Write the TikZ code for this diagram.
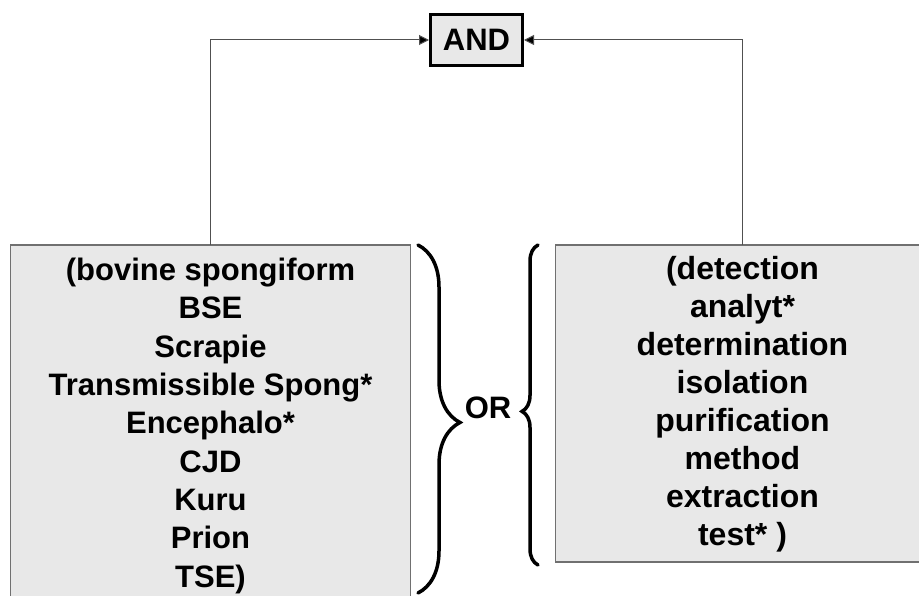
\documentclass[tikz,border=0pt]{standalone}
\usepackage{fontspec}
\setmainfont{Liberation Sans}
\usetikzlibrary{arrows.meta,decorations.pathreplacing}
\definecolor{boxfill}{HTML}{E8E8E8}
\definecolor{boxline}{HTML}{707070}
\definecolor{connline}{HTML}{505050}
\begin{document}
\begin{tikzpicture}[x=1pt,y=-1pt,
  andbox/.style={draw=black, line width=3pt, fill=boxfill, minimum width=92pt, minimum height=51pt, inner sep=0pt, font=\fontsize{31}{36}\selectfont\bfseries},
  termbox/.style={draw=boxline, line width=1.3pt, fill=boxfill, inner sep=0pt, outer sep=0pt, anchor=north west},
  termtext/.style={align=center, inner sep=0pt, anchor=north},
  conn/.style={draw=connline, line width=1pt, -{Triangle[length=10pt,width=10pt,fill=black]}},
  bracestyle/.style={decorate, line width=3.5pt, line cap=round}]
\clip (0,0) rectangle (919,596);
\fill[white] (0,0) rectangle (919,596);
\node[andbox] (AND) at (476.5,40) {AND};
\node[termbox, minimum width=400pt, minimum height=380pt] (L) at (10.5,245) {};
\node[termbox, minimum width=374pt, minimum height=317pt] (R) at (555.5,245) {};
\node[termtext, font=\fontsize{31}{38.3}\selectfont\bfseries] (Lt) at (210.5,258) {(bovine spongiform\\BSE\\Scrapie\\Transmissible Spong*\\Encephalo*\\CJD\\Kuru\\Prion\\TSE)};
\node[termtext, font=\fontsize{32}{38}\selectfont\bfseries] (Rt) at (742.5,256) {(detection\\analyt*\\determination\\isolation\\purification\\method\\extraction\\test* )};
\draw[conn] (L.north) |- (AND.west);
\draw[conn] (R.north) |- (AND.east);
\coordinate (b1s) at (418,245);
\coordinate (b1e) at (418,593);
\coordinate (b2s) at (538,565);
\coordinate (b2e) at (538,245);
\draw[bracestyle, decoration={brace, amplitude=42pt, aspect=0.51}] (b1s) -- (b1e);
\draw[bracestyle, decoration={brace, amplitude=16pt, aspect=0.48}] (b2s) -- (b2e);
\node[font=\fontsize{31}{36}\selectfont\bfseries, inner sep=0pt] (OR) at (488,408) {OR};
\end{tikzpicture}
\end{document}
